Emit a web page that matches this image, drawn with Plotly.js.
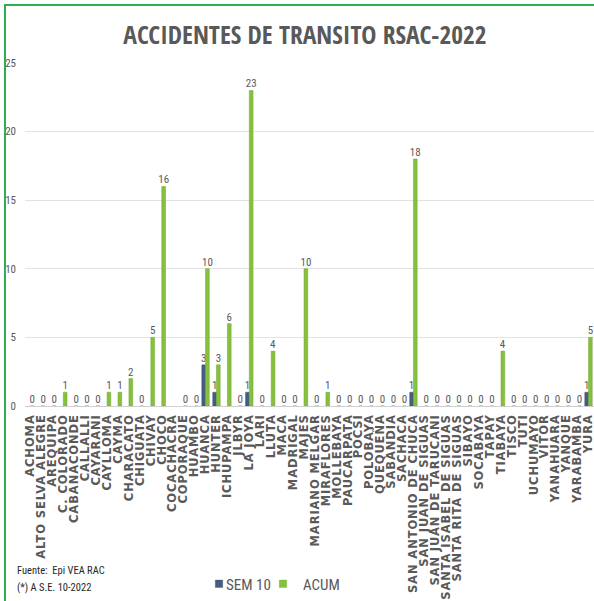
<!DOCTYPE html>
<html>
<head>
<meta charset="utf-8">
<script src="https://cdn.plot.ly/plotly-3.0.1.min.js"></script>
<style>
html,body{margin:0;padding:0;background:#fff;}
#chart{width:594px;height:601px;}
#chart .xtick text{letter-spacing:0.9px;}
</style>
</head>
<body>
<div id="chart"></div>
<script>
const categories = ["ACHOMA","ALTO SELVA ALEGRE","AREQUIPA","C. COLORADO","CABANACONDE","CALLALLI","CAYARANI","CAYLLOMA","CAYMA","CHARACATO","CHIGUATA","CHIVAY","CHOCO","COCACHACRA","COPORAQUE","HUAMBO","HUANCA","HUNTER","ICHUPAMPA","JLBYR","LA JOYA","LARI","LLUTA","MACA","MADRIGAL","MAJES","MARIANO MELGAR","MIRAFLORES","MOLLEBAYA","PAUCARPATA","POCSI","POLOBAYA","QUEQUEÑA","SABANDIA","SACHACA","SAN ANTONIO DE CHUCA","SAN JUAN DE SIGUAS","SAN JUAN DE TARUCANI","SANTA ISABEL DE SIGUAS","SANTA RITA DE SIGUAS","SIBAYO","SOCABAYA","TAPAY","TIABAYA","TISCO","TUTI","UCHUMAYO","VITOR","YANAHUARA","YANQUE","YARABAMBA","YURA"];

const sem10 = [null,null,null,null,null,null,null,null,null,null,null,null,null,null,null,null,3,1,null,null,1,null,null,null,null,null,null,null,null,null,null,null,null,null,null,1,null,null,null,null,null,null,null,null,null,null,null,null,null,null,null,1];

const acum = [0,0,0,1,0,0,0,1,1,2,0,5,16,null,0,0,10,3,6,0,23,0,4,0,0,10,0,1,0,0,0,0,0,0,0,18,0,0,0,0,0,0,0,4,0,0,0,0,0,0,0,5];

const yTicks = [0,5,10,15,20,25];

const grey = '#595959';
const cond = '"Roboto Condensed", "Open Sans Condensed", "DejaVu Sans Condensed", sans-serif';
const condBold = '"Open Sans Condensed", "Roboto Condensed", "DejaVu Sans Condensed", sans-serif';

const X0 = 25, W = 569, Y0 = 406, H = 343;
const px = p => (p - X0) / W;
const py = p => (Y0 - p) / H;

const traces = [
  {
    type:'bar', name:'SEM 10', x:categories, y:sem10, legend:'legend',
    marker:{color:'#465d80', line:{color:'#3a4f6e', width:0.5}},
    text: sem10.map(v => v === null ? '' : String(v)),
    textposition:'outside', cliponaxis:false, constraintext:'none',
    textfont:{family:cond, size:11, color:grey},
    hoverinfo:'x+y'
  },
  {
    type:'bar', name:'ACUM', x:categories, y:acum, legend:'legend2',
    marker:{color:'#86c13d', line:{color:'#6fa52e', width:0.5}},
    text: acum.map(v => v === null ? '' : String(v)),
    textposition:'outside', cliponaxis:false, constraintext:'none',
    textfont:{family:cond, size:11, color:grey},
    hoverinfo:'x+y'
  }
];

const legendBase = {
  orientation:'h', xanchor:'left', xref:'paper', yanchor:'middle', yref:'paper',
  y:py(584), font:{family:cond, size:15, color:grey},
  bgcolor:'rgba(0,0,0,0)', itemwidth:30, borderwidth:0
};

const layout = {
  width:594, height:601,
  margin:{l:X0, r:594 - X0 - W, t:Y0 - H, b:601 - Y0, pad:0},
  paper_bgcolor:'#ffffff', plot_bgcolor:'#ffffff',
  barmode:'group', bargap:0.32, bargroupgap:0,
  showlegend:true,
  title:{
    text:'ACCIDENTES DE TRANSITO RSAC-2022',
    font:{family:condBold, size:25.5, color:grey, weight:'bold'},
    x:px(305), xanchor:'center', xref:'paper',
    y:1 - 35/601, yanchor:'middle', yref:'container'
  },
  xaxis:{
    type:'category', tickmode:'linear', tick0:0, dtick:1,
    tickangle:-90,
    tickfont:{family:'"DejaVu Sans", sans-serif', size:11.5, color:grey, weight:'bold'},
    showgrid:false, zeroline:false, showline:false, ticks:'',
    ticklabelstandoff:5,
    automargin:false
  },
  yaxis:{
    range:[0,25], tickvals:yTicks, ticktext:yTicks.map(String),
    tickfont:{family:cond, size:11, color:grey},
    showgrid:true, gridcolor:'#e3e3e3', gridwidth:1,
    zeroline:true, zerolinecolor:'#d0d0d0', zerolinewidth:1,
    showline:false, ticks:'', ticklabelstandoff:8,
    automargin:false, fixedrange:true
  },
  legend: Object.assign({}, legendBase, {x:px(199)}),
  legend2: Object.assign({}, legendBase, {x:px(263)}),
  annotations:[
    {text:'Fuente:  Epi VEA RAC', xref:'paper', yref:'paper', x:px(15), y:py(570), xanchor:'left', yanchor:'middle', showarrow:false, font:{family:cond, size:10.5, color:'#262626'}},
    {text:'(*) A S.E. 10-2022', xref:'paper', yref:'paper', x:px(15), y:py(587), xanchor:'left', yanchor:'middle', showarrow:false, font:{family:cond, size:10.5, color:'#262626'}}
  ],
  shapes:[
    {type:'line', xref:'paper', yref:'paper', x0:px(5), x1:px(5), y0:py(5), y1:py(605), line:{color:'#2fb050', width:2}},
    {type:'line', xref:'paper', yref:'paper', x0:px(4), x1:px(600), y0:py(5), y1:py(5), line:{color:'#2fb050', width:2}}
  ]
};

Plotly.newPlot('chart', traces, layout, {displayModeBar:false, staticPlot:true}).then(function(){
  document.querySelectorAll('#chart .legendpoints path').forEach(function(p){
    p.setAttribute('transform', 'translate(20,0) scale(0.62)');
  });
  document.querySelectorAll('#chart .legendtext').forEach(function(t){
    t.setAttribute('x', '27');
  });
});
</script>
</body>
</html>
